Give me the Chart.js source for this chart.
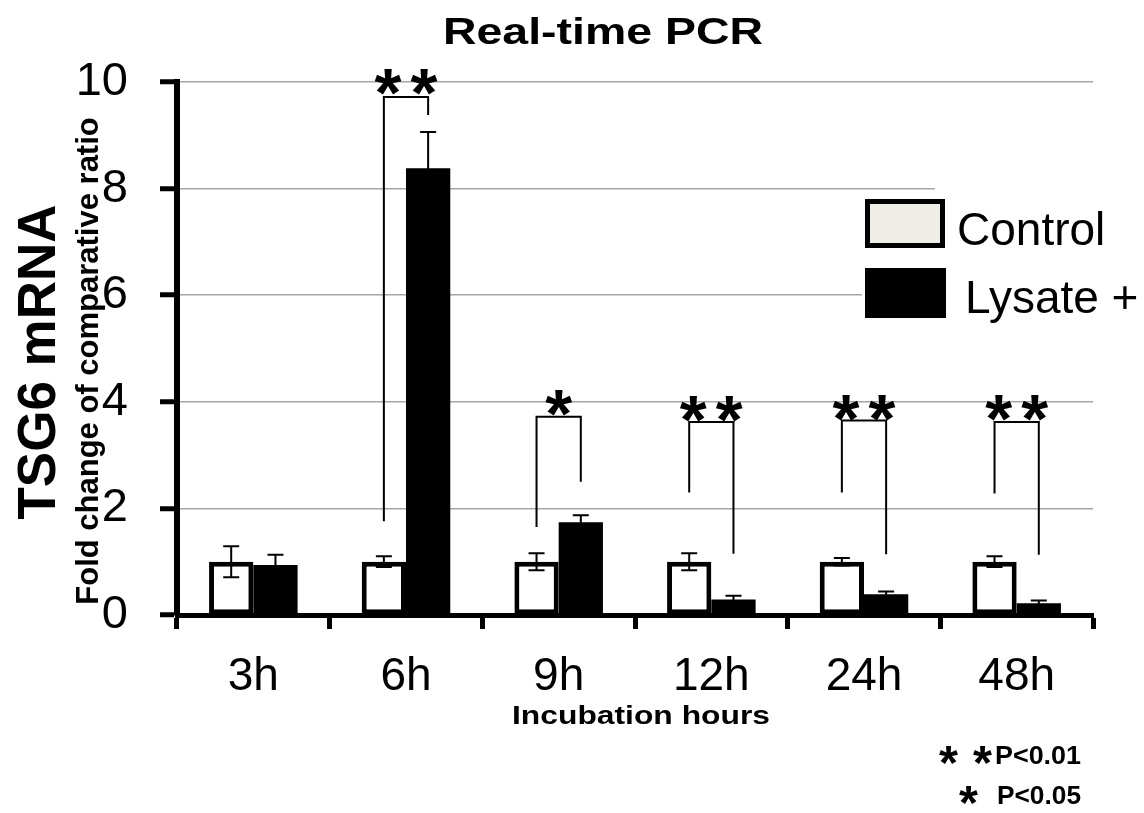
<!DOCTYPE html>
<html><head><meta charset="utf-8">
<script src="https://cdn.jsdelivr.net/npm/chart.js@4.4.1/dist/chart.umd.min.js"></script>
<style>html,body{margin:0;padding:0;background:#fff;}#wrap{width:1144px;height:813px;}</style>
</head><body><div id="wrap"><canvas id="c" width="1144" height="813"></canvas></div>
<script>
// ---- data ----
const categories = ['3h', '6h', '9h', '12h', '24h', '48h'];
const controlValues = [1.0, 1.0, 1.0, 1.0, 1.0, 1.0];
const controlErrors = [0.29, 0.10, 0.16, 0.16, 0.07, 0.10];
const lysateValues = [0.94, 8.38, 1.74, 0.29, 0.39, 0.22];
const lysateErrors = [0.19, 0.68, 0.13, 0.07, 0.05, 0.05];
const yTicks = [0, 2, 4, 6, 8, 10];
// significance brackets (value units)
const sigLeftBase = [null, 1.76, 1.65, 2.30, 2.30, 2.28];
const sigTop = [null, 9.72, 3.72, 3.62, 3.65, 3.62];
const sigRightBase = [null, 9.38, 2.50, 1.15, 1.14, 1.13];
const sigStarLevel = [null, 10.0, 3.97, 3.86, 3.89, 3.89];
const sigLabels = ['', '**', '*', '**', '**', '**'];
const seriesNames = ['Control', 'Lysate +'];
const pNotes = [['**', 'P<0.01'], ['*', 'P<0.05']];

const F = "'Liberation Sans', Arial, sans-serif";

function drawStar(ctx, cx, cy, size) {
  ctx.save();
  ctx.font = 'bold 100px ' + F;
  let m = ctx.measureText('*');
  const w = m.actualBoundingBoxRight + m.actualBoundingBoxLeft;
  const fs = 100 * size / w;
  ctx.font = 'bold ' + fs + 'px ' + F;
  m = ctx.measureText('*');
  const gx = cx - (m.actualBoundingBoxRight - m.actualBoundingBoxLeft) / 2;
  const gy = cy + (m.actualBoundingBoxAscent - m.actualBoundingBoxDescent) / 2;
  ctx.fillStyle = '#000';
  ctx.textAlign = 'left';
  ctx.textBaseline = 'alphabetic';
  ctx.fillText('*', gx, gy);
  ctx.restore();
}
function drawStars(ctx, label, cx, cy, size, gap) {
  const n = label.length;
  for (let k = 0; k < n; k++) {
    drawStar(ctx, cx + (k - (n - 1) / 2) * gap, cy, size);
  }
}
function drawStretched(ctx, text, font, left, baseline, targetWidth) {
  ctx.save();
  ctx.font = font;
  const w = ctx.measureText(text).width;
  ctx.translate(left, baseline);
  ctx.scale(targetWidth / w, 1);
  ctx.fillStyle = '#000';
  ctx.textAlign = 'left';
  ctx.textBaseline = 'alphabetic';
  ctx.fillText(text, 0, 0);
  ctx.restore();
}

const errorBars = {
  id: 'errorBars',
  afterDatasetsDraw(chart) {
    const ctx = chart.ctx, y = chart.scales.y;
    [[0, controlValues, controlErrors], [1, lysateValues, lysateErrors]].forEach(([di, vals, errs]) => {
      const meta = chart.getDatasetMeta(di);
      meta.data.forEach((bar, i) => {
        const x = bar.x;
        const yt = y.getPixelForValue(vals[i] + errs[i]);
        const yb = y.getPixelForValue(vals[i] - errs[i]);
        ctx.save();
        ctx.strokeStyle = '#000';
        ctx.lineWidth = 2;
        ctx.beginPath();
        ctx.moveTo(x, yt); ctx.lineTo(x, yb);
        ctx.moveTo(x - 8, yt); ctx.lineTo(x + 8, yt);
        ctx.moveTo(x - 8, yb); ctx.lineTo(x + 8, yb);
        ctx.stroke();
        ctx.restore();
      });
    });
  }
};

const brackets = {
  id: 'brackets',
  afterDatasetsDraw(chart) {
    const ctx = chart.ctx, y = chart.scales.y;
    const m0 = chart.getDatasetMeta(0), m1 = chart.getDatasetMeta(1);
    categories.forEach((c, i) => {
      if (!sigLabels[i]) return;
      const xl = m0.data[i].x, xr = m1.data[i].x;
      ctx.save();
      ctx.strokeStyle = '#000';
      ctx.lineWidth = 2;
      ctx.beginPath();
      ctx.moveTo(xl, y.getPixelForValue(sigLeftBase[i]));
      ctx.lineTo(xl, y.getPixelForValue(sigTop[i]));
      ctx.lineTo(xr, y.getPixelForValue(sigTop[i]));
      ctx.lineTo(xr, y.getPixelForValue(sigRightBase[i]));
      ctx.stroke();
      ctx.restore();
      drawStars(ctx, sigLabels[i], (xl + xr) / 2, y.getPixelForValue(sigStarLevel[i]), 27, 36);
    });
  }
};

const annotations = {
  id: 'annotations',
  afterDraw(chart) {
    const ctx = chart.ctx;
    // legend background covering grid lines
    ctx.save();
    ctx.fillStyle = '#fff';
    ctx.fillRect(935, 183, 209, 16);
    ctx.fillRect(862, 196, 282, 130);
    // swatches
    ctx.fillStyle = '#eeeee6';
    ctx.fillRect(865, 199, 80, 49);
    ctx.strokeStyle = '#000';
    ctx.lineWidth = 5;
    ctx.strokeRect(867.5, 201.5, 75, 44);
    ctx.fillStyle = '#000';
    ctx.fillRect(865, 268, 81, 50);
    ctx.font = '46px ' + F;
    ctx.textAlign = 'left';
    ctx.textBaseline = 'alphabetic';
    ctx.fillText(seriesNames[0], 957, 245);
    ctx.fillText(seriesNames[1], 965, 313);
    ctx.restore();

    // title
    drawStretched(ctx, 'Real-time PCR', 'bold 37px ' + F, 443, 44, 320);
    // x title
    drawStretched(ctx, 'Incubation hours', 'bold 26px ' + F, 512, 724, 258);

    // y titles
    ctx.save();
    ctx.fillStyle = '#000';
    ctx.textAlign = 'center';
    ctx.textBaseline = 'alphabetic';
    ctx.translate(55, 362);
    ctx.rotate(-Math.PI / 2);
    ctx.font = 'bold 53px ' + F;
    ctx.fillText('TSG6 mRNA', 0, 0);
    ctx.restore();
    ctx.save();
    ctx.fillStyle = '#000';
    ctx.textAlign = 'center';
    ctx.textBaseline = 'alphabetic';
    ctx.translate(98, 361);
    ctx.rotate(-Math.PI / 2);
    ctx.font = 'bold 31px ' + F;
    ctx.fillText('Fold change of comparative ratio', 0, 0);
    ctx.restore();

    // p-value notes
    drawStars(ctx, pNotes[0][0], 965.5, 755, 19, 34);
    drawStretched(ctx, pNotes[0][1], 'bold 25px ' + F, 995, 764, 86);
    drawStars(ctx, pNotes[1][0], 968.5, 795, 19, 34);
    drawStretched(ctx, pNotes[1][1], 'bold 25px ' + F, 997, 804, 84);
  }
};

const ctx = document.getElementById('c').getContext('2d');
new Chart(ctx, {
  type: 'bar',
  data: {
    labels: categories,
    datasets: [
      { label: seriesNames[0], data: controlValues, backgroundColor: '#ffffff', borderColor: '#000000',
        borderWidth: 5, borderSkipped: false, categoryPercentage: 0.58, barPercentage: 1.0 },
      { label: seriesNames[1], data: lysateValues, backgroundColor: '#000000', borderWidth: 0,
        categoryPercentage: 0.58, barPercentage: 1.0 }
    ]
  },
  options: {
    responsive: false,
    animation: false,
    devicePixelRatio: 1,
    layout: { padding: { top: 82, right: 51, left: 0, bottom: 0 } },
    plugins: { legend: { display: false }, tooltip: { enabled: false }, title: { display: false } },
    scales: {
      x: {
        grid: { display: true, drawOnChartArea: false, drawTicks: true, tickLength: 14, tickColor: '#000', tickWidth: 5, offset: true },
        border: { display: true, color: '#000', width: 5 },
        ticks: { color: '#000', font: { family: F, size: 46 }, padding: 21, maxRotation: 0 },
        afterFit(s) { s.height = 198; }
      },
      y: {
        min: 0, max: 10,
        afterBuildTicks(s) { s.ticks = yTicks.map(v => ({ value: v })); },
        grid: {
          color: c => (c.tick && c.tick.value === 0) ? 'rgba(0,0,0,0)' : '#a6a6a6',
          lineWidth: 1.5, tickColor: '#000', tickWidth: 5, tickLength: 17
        },
        border: { display: true, color: '#000', width: 6 },
        ticks: { color: '#000', font: { family: F, size: 47 }, padding: 32 },
        afterFit(s) { s.width = 177; }
      }
    }
  },
  plugins: [errorBars, brackets, annotations]
});
</script>
</body></html>
